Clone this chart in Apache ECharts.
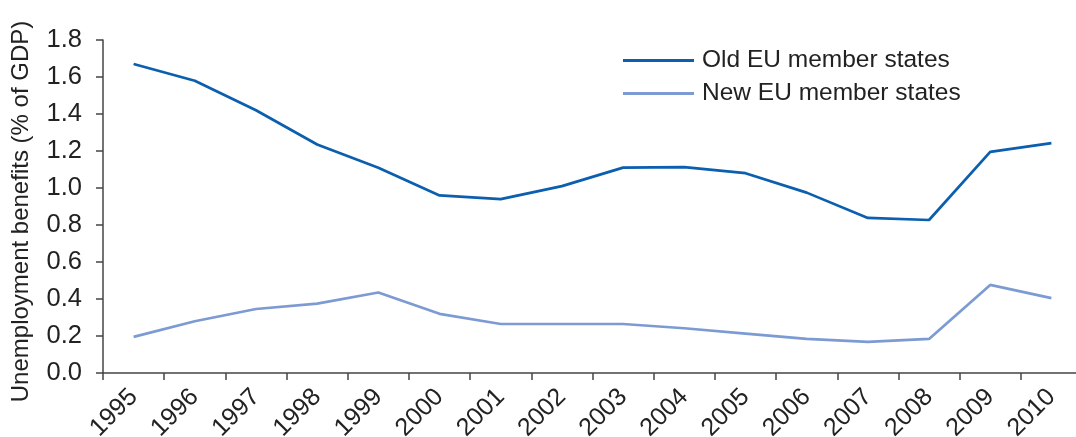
<!DOCTYPE html>
<html>
<head>
<meta charset="utf-8">
<script src="https://cdn.jsdelivr.net/npm/echarts@6/dist/echarts.min.js"></script>
<style>
html,body{margin:0;padding:0;background:#fff;}
#chart{width:1076px;height:437px;}
</style>
</head>
<body>
<div id="chart"></div>
<script>
const years = ['1995','1996','1997','1998','1999','2000','2001','2002','2003','2004','2005','2006','2007','2008','2009','2010'];
const oldEU = [1.67,1.58,1.42,1.235,1.11,0.96,0.94,1.01,1.11,1.113,1.08,0.975,0.838,0.827,1.195,1.243];
const newEU = [0.195,0.28,0.346,0.375,0.435,0.32,0.265,0.265,0.265,0.242,0.213,0.184,0.168,0.184,0.476,0.405];
const yTicks = [0,0.2,0.4,0.6,0.8,1.0,1.2,1.4,1.6,1.8];

const FONT = 'Liberation Sans';
const TXT = '#222';
const AX = '#444';

const chart = echarts.init(document.getElementById('chart'), null, {renderer:'canvas'});
chart.setOption({
  animation:false,
  backgroundColor:'#fff',
  textStyle:{fontFamily:FONT},
  grid:{left:103,right:-6,top:40,bottom:64,containLabel:false,outerBoundsMode:'none'},
  legend:{
    orient:'vertical',
    left:623, top:48, padding:0,
    itemWidth:71, itemHeight:3, itemGap:8,
    icon:'rect',
    textStyle:{fontFamily:FONT,fontSize:24.5,color:TXT,padding:[0,0,0,3]},
    data:['Old EU member states','New EU member states']
  },
  xAxis:{
    type:'category',
    data:years,
    boundaryGap:true,
    axisLine:{lineStyle:{color:AX,width:1.5}},
    axisTick:{show:true,length:7,interval:0,lineStyle:{color:AX,width:1.5}},
    axisLabel:{interval:0,rotate:45,margin:20,fontSize:25,color:TXT,fontFamily:FONT}
  },
  yAxis:{
    type:'value',
    min:0,max:1.8,interval:0.2,
    name:'Unemployment benefits (% of GDP)',
    nameLocation:'middle',
    nameGap:70,
    nameTextStyle:{fontSize:24,color:TXT,fontFamily:FONT,padding:[0,10,0,0]},
    axisLine:{show:true,lineStyle:{color:AX,width:1.5}},
    axisTick:{show:true,length:7,lineStyle:{color:AX,width:1.5}},
    splitLine:{show:false},
    axisLabel:{margin:21,fontSize:25.5,color:TXT,fontFamily:FONT,
      formatter:function(v){return v.toFixed(1);}}
  },
  series:[
    {name:'Old EU member states',type:'line',data:oldEU,symbol:'none',
     lineStyle:{color:'#0b5fae',width:2.7},itemStyle:{color:'#0b5fae'}},
    {name:'New EU member states',type:'line',data:newEU,symbol:'none',
     lineStyle:{color:'#7d9bd3',width:2.7},itemStyle:{color:'#7d9bd3'}}
  ]
});
</script>
</body>
</html>
